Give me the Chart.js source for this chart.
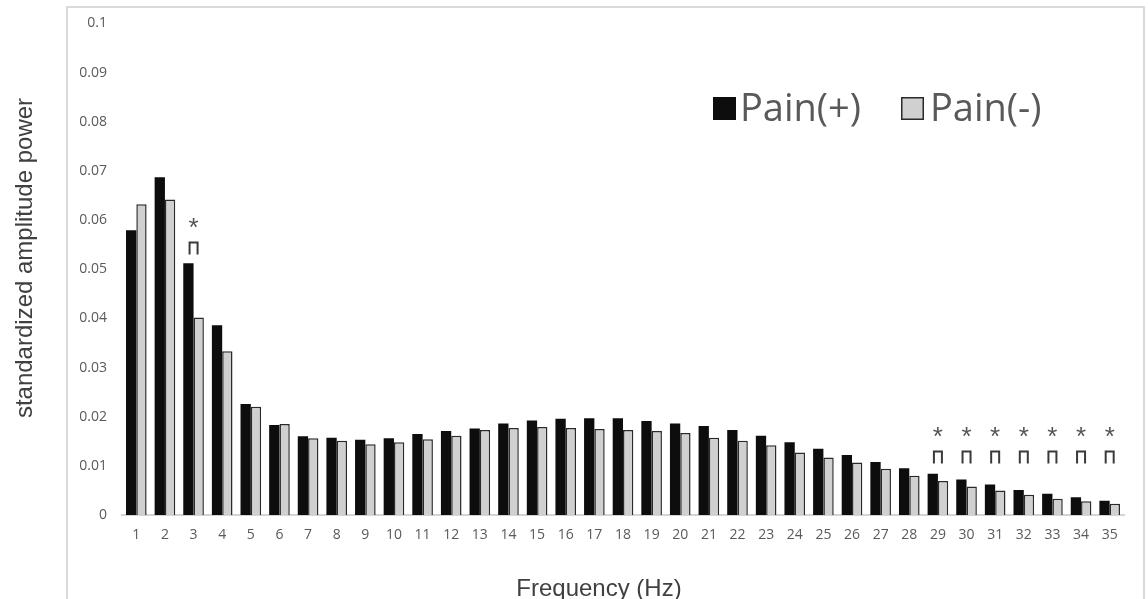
<!DOCTYPE html>
<html>
<head>
<meta charset="utf-8">
<script src="https://cdn.jsdelivr.net/npm/chart.js@4/dist/chart.umd.min.js"></script>
<style>
  html, body { margin: 0; padding: 0; background: #fff; }
  #wrap { width: 1148px; height: 599px; position: relative; }
</style>
</head>
<body>
<div id="wrap"><canvas id="c" width="1148" height="599"></canvas></div>
<script>
const categories = ['1','2','3','4','5','6','7','8','9','10','11','12','13','14','15','16','17','18','19','20','21','22','23','24','25','26','27','28','29','30','31','32','33','34','35'];
const painPlus = [0.0579,0.0687,0.0512,0.0386,0.0226,0.0183,0.0160,0.0157,0.0153,0.0156,0.0165,0.0171,0.0176,0.0186,0.0192,0.0196,0.0197,0.0197,0.0191,0.0186,0.0181,0.0173,0.0161,0.0148,0.0135,0.0122,0.0108,0.0095,0.0084,0.0072,0.0062,0.0051,0.0043,0.0036,0.0029];
const painMinus = [0.0632,0.0642,0.0402,0.0333,0.0220,0.0185,0.0156,0.0151,0.0144,0.0148,0.0154,0.0161,0.0173,0.0177,0.0179,0.0177,0.0175,0.0173,0.0171,0.0167,0.0157,0.0151,0.0142,0.0127,0.0117,0.0107,0.0094,0.0080,0.0069,0.0058,0.0050,0.0041,0.0033,0.0028,0.0023];
const yTickLabels = ['0','0.01','0.02','0.03','0.04','0.05','0.06','0.07','0.08','0.09','0.1'];
const sigCategories = ['3','29','30','31','32','33','34','35'];
const sigLevels = [0.0530,0.0105,0.0105,0.0105,0.0105,0.0105,0.0105,0.0105];
const seriesLabels = ['Pain(+)','Pain(-)'];
const xTitle = 'Frequency (Hz)';
const yTitle = 'standardized amplitude power';

const framePlugin = {
  id: 'frame',
  beforeDraw(chart) {
    const ctx = chart.ctx;
    ctx.save();
    ctx.fillStyle = '#fff';
    ctx.fillRect(0, 0, chart.width, chart.height);
    ctx.strokeStyle = '#dadada';
    ctx.lineWidth = 2;
    ctx.strokeRect(67, 7, 1077, 700);
    ctx.restore();
  }
};

const annotPlugin = {
  id: 'annot',
  afterDraw(chart) {
    const ctx = chart.ctx;
    const xs = chart.scales.x, ys = chart.scales.y;
    ctx.save();
    // significance brackets
    sigCategories.forEach((cat, i) => {
      const cx = xs.getPixelForValue(categories.indexOf(cat));
      const yb = ys.getPixelForValue(sigLevels[i]);
      const yt = yb - 12;
      ctx.strokeStyle = '#3a3a3a';
      ctx.lineWidth = 2;
      ctx.beginPath();
      ctx.moveTo(cx - 4, yb);
      ctx.lineTo(cx - 4, yt);
      ctx.lineTo(cx + 4, yt);
      ctx.lineTo(cx + 4, yb);
      ctx.stroke();
      ctx.fillStyle = '#555';
      ctx.font = '26px "Liberation Sans", Arial, sans-serif';
      ctx.textAlign = 'center';
      ctx.textBaseline = 'alphabetic';
      const m = ctx.measureText('*');
      const h = m.actualBoundingBoxAscent - m.actualBoundingBoxDescent;
      const cy = yt - 11;
      ctx.fillText('*', cx, cy + m.actualBoundingBoxAscent - h / 2);
    });
    // legend
    const ds = chart.data.datasets;
    const items = [{x: 713, tx: 740}, {x: 901, tx: 930}];
    ctx.font = '38px "Open Sans", "Noto Sans", sans-serif';
    ctx.textAlign = 'left';
    ctx.textBaseline = 'alphabetic';
    items.forEach((it, i) => {
      ctx.fillStyle = ds[i].backgroundColor;
      ctx.fillRect(it.x, 97, 23, 23);
      if (ds[i].borderWidth) {
        ctx.strokeStyle = ds[i].borderColor;
        ctx.lineWidth = 1.5;
        ctx.strokeRect(it.x + 0.75, 97.75, 21.5, 21.5);
      }
      ctx.fillStyle = '#595959';
      ctx.fillText(seriesLabels[i], it.tx, 121);
    });
    // axis titles
    ctx.fillStyle = '#404040';
    ctx.font = '24px "Liberation Sans", Arial, sans-serif';
    ctx.textAlign = 'center';
    ctx.textBaseline = 'alphabetic';
    ctx.fillText(xTitle, 599, 596);
    ctx.translate(32, 258);
    ctx.rotate(-Math.PI / 2);
    ctx.fillText(yTitle, 0, 0);
    ctx.restore();
  }
};

new Chart(document.getElementById('c'), {
  type: 'bar',
  data: {
    labels: categories,
    datasets: [
      { label: seriesLabels[0], data: painPlus, backgroundColor: '#0d0d0d', borderWidth: 0,
        categoryPercentage: 0.72, barPercentage: 1.0 },
      { label: seriesLabels[1], data: painMinus, backgroundColor: '#d0d0d0', borderColor: '#2a2a2a', borderWidth: 1.5,
        categoryPercentage: 0.72, barPercentage: 1.0 }
    ]
  },
  options: {
    responsive: false,
    animation: false,
    devicePixelRatio: 1,
    layout: { padding: { top: 23, right: 24, left: 0, bottom: 0 } },
    plugins: { legend: { display: false }, tooltip: { enabled: false } },
    scales: {
      x: {
        grid: { display: false, drawTicks: false },
        border: { display: true, color: '#d4d4d4', width: 2 },
        ticks: { color: '#5a5a5a', padding: 12, font: { family: '"Open Sans", "Noto Sans", sans-serif', size: 14 }, maxRotation: 0, autoSkip: false },
        afterFit(scale) { scale.height = 84; }
      },
      y: {
        min: 0, max: 0.1,
        grid: { display: false, drawTicks: false },
        border: { display: false },
        ticks: { stepSize: 0.01, color: '#5a5a5a', padding: 15,
          font: { family: '"Open Sans", "Noto Sans", sans-serif', size: 14 },
          callback: (v, i) => yTickLabels[i] },
        afterFit(scale) { scale.width = 122; }
      }
    }
  },
  plugins: [framePlugin, annotPlugin]
});
</script>
</body>
</html>
